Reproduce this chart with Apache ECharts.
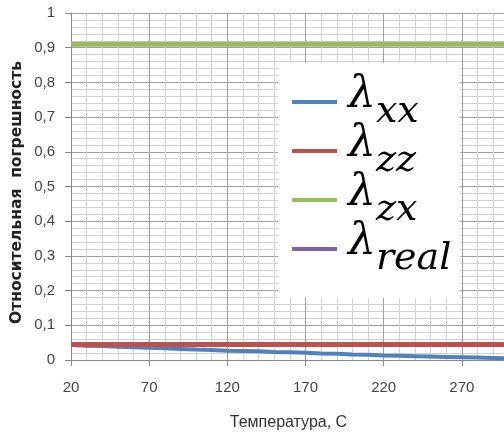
<!DOCTYPE html>
<html>
<head>
<meta charset="utf-8">
<script src="https://cdn.jsdelivr.net/npm/echarts@6/dist/echarts.min.js"></script>
<style>html,body{margin:0;padding:0;background:#fff;}#c{width:504px;height:436px;}</style>
</head>
<body>
<div id="c"></div>
<script>
const temperatures = [20,30,40,50,60,70,80,90,100,110,120,130,140,150,160,170,180,190,200,210,220,230,240,250,260,270,280,290,300];
const lambdaXX = [0.043,0.041,0.040,0.038,0.037,0.035,0.034,0.032,0.030,0.029,0.027,0.026,0.025,0.023,0.022,0.021,0.019,0.018,0.016,0.015,0.013,0.012,0.011,0.010,0.009,0.008,0.007,0.006,0.005];
const lambdaZZ = [0.045,0.045,0.045,0.045,0.045,0.045,0.045,0.045,0.045,0.045,0.045,0.045,0.045,0.045,0.045,0.045,0.045,0.045,0.045,0.045,0.045,0.045,0.045,0.045,0.045,0.045,0.045,0.045,0.045];
const lambdaZX = [0.91,0.91,0.91,0.91,0.91,0.91,0.91,0.91,0.91,0.91,0.91,0.91,0.91,0.91,0.91,0.91,0.91,0.91,0.91,0.91,0.91,0.91,0.91,0.91,0.91,0.91,0.91,0.91,0.91];
const lambdaReal = [];
const seriesNames = ['xx','zz','zx','real'];
const seriesColors = ['#4F81BD','#C0504D','#9BBB59','#8064A2'];
const xAxisTitle = 'Температура, С';
const yAxisTitle = 'Относительная  погрешность';

function pairs(ys){ return ys.map((y,i)=>[temperatures[i], y]); }

const chart = echarts.init(document.getElementById('c'), null, {renderer:'canvas'});
const labelFont = 'Liberation Sans';
chart.setOption({
  animation:false,
  backgroundColor:'#fff',
  grid:{left:71, top:13, bottom:76, right:-36, containLabel:false, outerBoundsMode:'none'},
  xAxis:{
    type:'value', min:20, max:320, interval:50,
    name:xAxisTitle, nameLocation:'middle', nameGap:55,
    nameTextStyle:{fontFamily:labelFont, fontSize:16, color:'#333', padding:[0,34,0,0]},
    axisLine:{show:true, onZero:false, lineStyle:{color:'#8a8a8a', width:1}},
    axisTick:{show:true, length:6, inside:false, lineStyle:{color:'#8a8a8a'}},
    axisLabel:{margin:20, fontFamily:labelFont, fontSize:15, color:'#444', showMaxLabel:false},
    splitLine:{show:true, lineStyle:{color:'#a0a0a0', width:1}},
    minorTick:{show:false, splitNumber:5},
    minorSplitLine:{show:true, lineStyle:{color:'#d2d2d2', width:1}}
  },
  yAxis:{
    type:'value', min:0, max:1, interval:0.1,
    name:yAxisTitle, nameLocation:'middle', nameRotate:90, nameGap:46, nameMoveOverlap:false,
    nameTextStyle:{fontFamily:'DejaVu Sans', fontSize:15.5, fontWeight:'bold', color:'#222', padding:[0,12,0,0]},
    axisLine:{show:true, lineStyle:{color:'#8a8a8a', width:1}},
    axisTick:{show:true, length:6, inside:false, lineStyle:{color:'#8a8a8a'}},
    axisLabel:{margin:16, fontFamily:labelFont, fontSize:15, color:'#444',
      formatter:v=>String(+v.toFixed(2)).replace('.', ',')},
    splitLine:{show:true, lineStyle:{color:'#a0a0a0', width:1}},
    minorTick:{show:false, splitNumber:5},
    minorSplitLine:{show:true, lineStyle:{color:'#d2d2d2', width:1}}
  },
  legend:{
    orient:'vertical', left:278, top:63,
    backgroundColor:'#ffffff',
    padding:[6,9,20,14],
    itemGap:-13,
    icon:'rect', itemWidth:45, itemHeight:4,
    data:seriesNames,
    formatter:n=>'{l|λ}{s|'+n+'}',
    textStyle:{
      rich:{
        l:{fontFamily:'DejaVu Serif', fontStyle:'italic', fontSize:44, color:'#000', verticalAlign:'top', lineHeight:66, padding:[5,0,0,6]},
        s:{fontFamily:'DejaVu Serif', fontStyle:'italic', fontSize:38, color:'#000', verticalAlign:'bottom', padding:[0,0,4,0]}
      }
    }
  },
  series:[
    {name:seriesNames[0], type:'line', data:pairs(lambdaXX), showSymbol:false, lineStyle:{width:4, color:seriesColors[0]}, itemStyle:{color:seriesColors[0]}},
    {name:seriesNames[1], type:'line', data:pairs(lambdaZZ), showSymbol:false, lineStyle:{width:5, color:seriesColors[1]}, itemStyle:{color:seriesColors[1]}},
    {name:seriesNames[2], type:'line', data:pairs(lambdaZX), showSymbol:false, lineStyle:{width:5, color:seriesColors[2]}, itemStyle:{color:seriesColors[2]}},
    {name:seriesNames[3], type:'line', data:pairs(lambdaReal), showSymbol:false, lineStyle:{width:5, color:seriesColors[3]}, itemStyle:{color:seriesColors[3]}}
  ]
});
</script>
</body>
</html>
